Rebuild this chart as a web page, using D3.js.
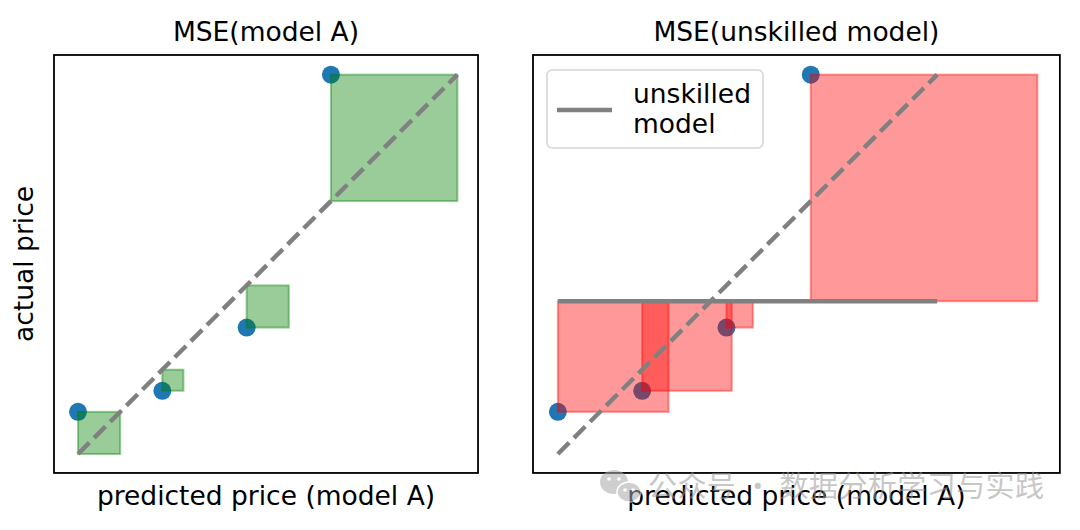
<!DOCTYPE html>
<html>
<head>
<meta charset="utf-8">
<script src="https://cdn.jsdelivr.net/npm/d3@7"></script>
<style>
    body { margin: 0; background: #fff; }
    svg text { font-family: "DejaVu Sans", sans-serif; }
</style>
</head>
<body>
<svg id="chart" width="1080" height="530"></svg>
<script>
// data
const predicted = [1, 2, 3, 4];
const actual = [1.5, 1.75, 2.5, 5.5];
const diagonal = [1, 5.5];
const titles = ["MSE(model A)", "MSE(unskilled model)"];
const xLabel = "predicted price (model A)";
const yLabel = "actual price";
const legendLines = ["unskilled", "model"];
const watermark = "公众号 · 数据分析学习与实践";

// axis limits (equal aspect, same px per unit in both panels)
const xLimA = [0.715, 5.745];
const xLimB = [0.705, 6.955];
const yLim = [0.775, 5.733];

const unit = 84.3;
const panelTop = 55;
const fontSize = 26.5;

const svg = d3.select("#chart");

//panel builder
const myPanel = (function () {

    function make(x0, xLim, title) {
        let w = (xLim[1] - xLim[0]) * unit,
            h = (yLim[1] - yLim[0]) * unit;

        let x = d3.scaleLinear().domain(xLim).range([0, w]);
        let y = d3.scaleLinear().domain(yLim).range([h, 0]);

        let g = svg.append("g").attr("transform", "translate(" + x0 + "," + panelTop + ")");

        let clip = "clip" + x0;
        g.append("clipPath").attr("id", clip)
            .append("rect").attr("width", w).attr("height", h);

        let plot = g.append("g").attr("clip-path", "url(#" + clip + ")");

        g.append("text")
            .attr("x", w / 2).attr("y", -14)
            .attr("text-anchor", "middle")
            .style("font-size", fontSize + "px")
            .text(title);

        g.append("text")
            .attr("x", w / 2).attr("y", h + 32)
            .attr("text-anchor", "middle")
            .style("font-size", fontSize + "px")
            .text(xLabel);

        return {g: g, plot: plot, x: x, y: y, w: w, h: h};
    }

    function frame(p) {
        p.g.append("rect")
            .attr("width", p.w).attr("height", p.h)
            .attr("fill", "none")
            .attr("stroke", "#000")
            .attr("stroke-width", 1.8);
    }

    function points(p) {
        p.plot.selectAll("circle.pt")
            .data(predicted)
            .enter().append("circle")
            .attr("class", "pt")
            .attr("cx", d => p.x(d))
            .attr("cy", (d, i) => p.y(actual[i]))
            .attr("r", 9)
            .style("fill", "#1f77b4");
    }

    // squares of the error, from the point towards the reference
    function squares(p, ref, color) {
        p.plot.selectAll("rect.sq")
            .data(predicted)
            .enter().append("rect")
            .attr("class", "sq")
            .attr("x", d => p.x(d))
            .attr("y", (d, i) => p.y(Math.max(actual[i], ref(i))))
            .attr("width", (d, i) => p.x(d + Math.abs(actual[i] - ref(i))) - p.x(d))
            .attr("height", (d, i) => p.y(Math.min(actual[i], ref(i))) - p.y(Math.max(actual[i], ref(i))))
            .attr("fill", color)
            .attr("fill-opacity", 0.4)
            .attr("stroke", color)
            .attr("stroke-opacity", 0.4)
            .attr("stroke-width", 2);
    }

    function diag(p) {
        p.plot.append("line")
            .attr("x1", p.x(diagonal[0])).attr("y1", p.y(diagonal[0]))
            .attr("x2", p.x(diagonal[1])).attr("y2", p.y(diagonal[1]))
            .attr("stroke", "#808080")
            .attr("stroke-width", 4.4)
            .attr("stroke-dasharray", "16,6.8");
    }

    // Exposed public
    return {
        make: make,
        frame: frame,
        points: points,
        squares: squares,
        diag: diag
    }
})();

// left panel: model A
const pA = myPanel.make(54, xLimA, titles[0]);
myPanel.points(pA);
myPanel.squares(pA, i => predicted[i], "#008000");
myPanel.diag(pA);
myPanel.frame(pA);

// y label once, on the left
pA.g.append("text")
    .attr("transform", "translate(-21," + (pA.h / 2) + ") rotate(-90)")
    .attr("text-anchor", "middle")
    .style("font-size", fontSize + "px")
    .text(yLabel);

// right panel: unskilled model (mean of actual)
const meanActual = d3.mean(actual);
const pB = myPanel.make(533, xLimB, titles[1]);
myPanel.points(pB);
myPanel.squares(pB, i => meanActual, "#ff0000");
myPanel.diag(pB);
pB.plot.append("line")
    .attr("x1", pB.x(diagonal[0])).attr("y1", pB.y(meanActual))
    .attr("x2", pB.x(diagonal[1])).attr("y2", pB.y(meanActual))
    .attr("stroke", "#808080")
    .attr("stroke-width", 4.4);
myPanel.frame(pB);

//legend
const legend = pB.g.append("g").attr("transform", "translate(14,15)");
legend.append("rect")
    .attr("width", 216).attr("height", 78)
    .attr("rx", 5)
    .attr("fill", "rgba(255,255,255,0.8)")
    .attr("stroke", "#d6d6d6")
    .attr("stroke-width", 1.6);
legend.append("line")
    .attr("x1", 10).attr("x2", 65)
    .attr("y1", 40).attr("y2", 40)
    .attr("stroke", "#808080")
    .attr("stroke-width", 4.4);
legend.selectAll("text")
    .data(legendLines)
    .enter().append("text")
    .attr("x", 86)
    .attr("y", (d, i) => 33 + i * 30)
    .style("font-size", fontSize + "px")
    .text(d => d);

// watermark, faint, over the right x label
const wm = svg.append("g").attr("opacity", 0.55);
wm.append("ellipse").attr("cx", 614).attr("cy", 482).attr("rx", 14).attr("ry", 12).attr("fill", "#a8a8a8");
wm.append("ellipse").attr("cx", 629).attr("cy", 492).attr("rx", 12).attr("ry", 10).attr("fill", "#a8a8a8")
    .attr("stroke", "#fff").attr("stroke-width", 1.5);
[[609, 479], [619, 479], [625, 490], [633, 490]].forEach(function (e) {
    wm.append("circle").attr("cx", e[0]).attr("cy", e[1]).attr("r", 1.8).attr("fill", "#fff");
});
wm.append("text")
    .attr("x", 648).attr("y", 497)
    .attr("textLength", 396)
    .attr("lengthAdjust", "spacing")
    .style("font-family", "'Noto Sans CJK SC', sans-serif")
    .style("font-size", "29px")
    .attr("fill", "#9a9a9a")
    .text(watermark);
</script>
</body>
</html>
